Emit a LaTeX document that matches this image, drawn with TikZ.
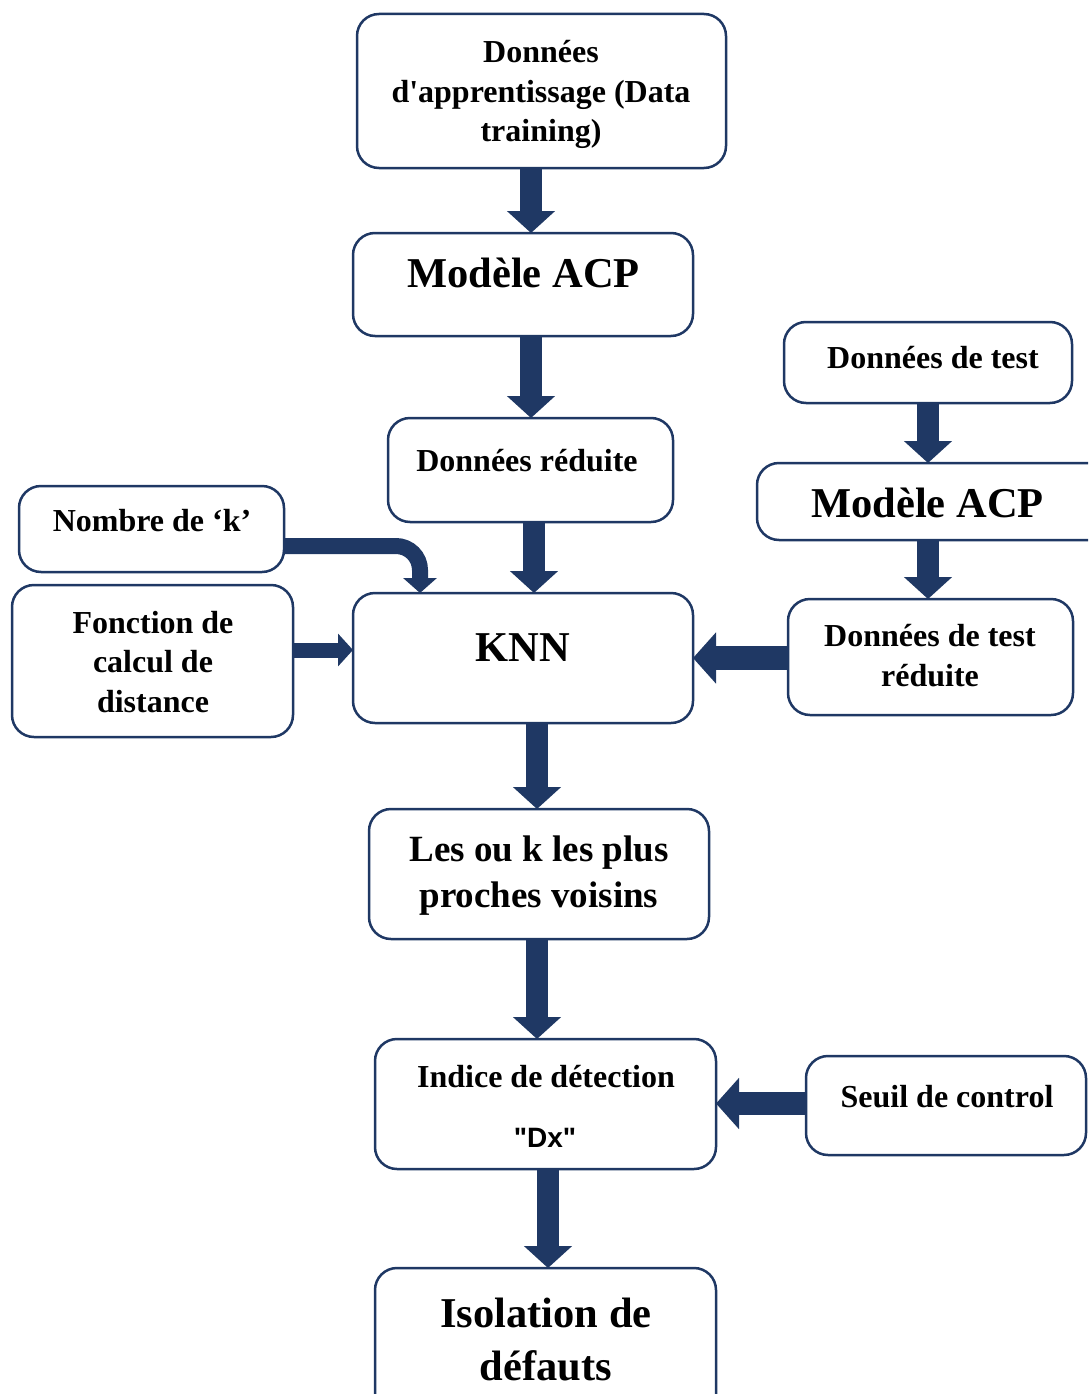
\documentclass[tikz,border=0pt]{standalone}
\usepackage{fontspec}
\setmainfont{Liberation Serif}
\newfontfamily\dxfont{Liberation Sans}
\usetikzlibrary{arrows.meta,calc}
\definecolor{navy}{HTML}{1F3864}

\begin{document}
\begin{tikzpicture}[x=1pt,y=-1pt,
  box/.style 2 args={draw=navy, line width=2.5pt, rounded corners=22pt,
    inner sep=0pt, outer sep=0pt, minimum width=#1pt, minimum height=#2pt, fill=white},
  txtS/.style={font=\bfseries\fontsize{32}{39.5}\selectfont, align=center, anchor=base, inner sep=0pt},
  txtM/.style={font=\bfseries\fontsize{37}{45.5}\selectfont, align=center, anchor=base, inner sep=0pt},
  txtL/.style={font=\bfseries\fontsize{42.5}{53}\selectfont, align=center, anchor=base, inner sep=0pt},
  vflow/.style={draw=navy, line width=22pt, -{Triangle[width=47pt,length=22pt]}},
  hflow/.style={draw=navy, line width=24pt, -{Triangle[width=50pt,length=23pt]}},
  thinflow/.style={draw=navy, line width=16pt, -{Triangle[width=33pt,length=15pt]}},
]
\clip (0,0) rectangle (1088,1394);

% boxes
\node[box={369}{154}] (b1)  at (541.5,91)   {};
\node[box={340}{103}] (b2)  at (523,284.5)  {};
\node[box={285}{104}] (b3)  at (530.5,470)  {};
\node[box={265}{86}]  (b4)  at (151.5,529)  {};
\node[box={281}{152}] (b5)  at (152.5,661)  {};
\node[box={340}{130}] (b6)  at (523,658)    {};
\node[box={288}{81}]  (b7)  at (928,362.5)  {};
\node[box={363}{77}]  (b8)  at (938.5,501.5){};
\node[box={285}{116}] (b9)  at (930.5,657)  {};
\node[box={340}{130}] (b10) at (539,874)    {};
\node[box={341}{130}] (b11) at (545.5,1104) {};
\node[box={280}{99}]  (b12) at (946,1105.5) {};
\node[box={341}{152}] (b13) at (545.5,1344) {};

% labels (multi-line labels sit on the baseline of their last line)
\node[txtS] (t1)  at (541,142)  {Données\\d\textquotesingle apprentissage (Data\\training)};
\node[txtL] (t2)  at (523.5,287) {Modèle ACP};
\node[txtS] (t3)  at (527,471)  {Données réduite};
\node[txtS] (t4)  at (152,531)  {Nombre de ‘k’};
\node[txtS] (t5)  at (153,712)  {Fonction de\\calcul de\\distance};
\node[txtL] (t6)  at (523,661)  {KNN};
\node[txtS] (t7)  at (933,368)  {Données de test};
\node[txtL] (t8)  at (927.5,517) {Modèle ACP};
\node[txtS] (t9)  at (930,686)  {Données de test\\réduite};
\node[txtM] (t10) at (539,907)  {Les ou k les plus\\proches voisins};
\node[txtS] (t11) at (546,1087) {Indice de détection};
\node[anchor=base, inner sep=0pt, font=\dxfont\bfseries\fontsize{28}{34}\selectfont] (t11b) at (545,1147)
  {\textquotedbl Dx\textquotedbl};
\node[txtS] (t12) at (947,1107) {Seuil de control};
\node[txtL] (t13) at (546,1380) {Isolation de\\défauts};

% flows
\draw[vflow] (b1.south -| 531,0) -- (b2.north -| 531,0);
\draw[vflow] (b2.south -| 531,0) -- (b3.north -| 531,0);
\draw[vflow] (b3.south -| 534,0) -- (b6.north -| 534,0);
\draw[vflow] (b7.south -| 928,0) -- (b8.north -| 928,0);
\draw[vflow] (b8.south -| 928,0) -- (b9.north -| 928,0);
\draw[vflow] (b6.south -| 537,0) -- (b10.north -| 537,0);
\draw[vflow] (b10.south -| 537,0) -- (b11.north -| 537,0);
\draw[vflow] (b11.south -| 548,0) -- (b13.north -| 548,0);
\draw[hflow] (b9.west |- 0,658) -- (b6.east |- 0,658);
\draw[hflow, line width=23pt] (b12.west |- 0,1103.5) -- (b11.east |- 0,1103.5);
\draw[thinflow, line width=15pt, -{Triangle[width=32pt,length=15pt]}] (b5.east |- 0,650) -- (b6.west |- 0,650);
\draw[thinflow, rounded corners=24pt] (b4.east |- 0,546) -| (b6.north -| 420,0);
\end{tikzpicture}
\end{document}
